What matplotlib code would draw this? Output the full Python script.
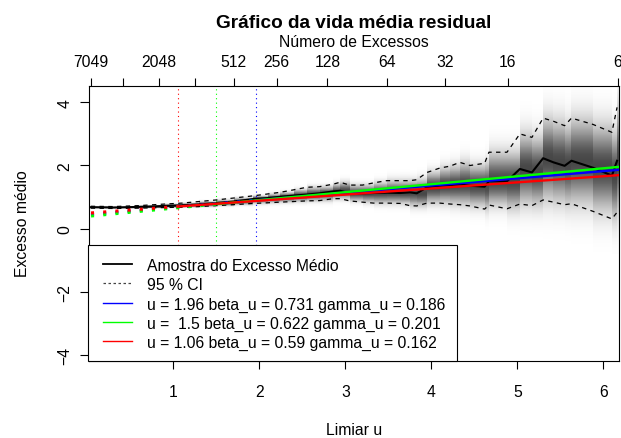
import numpy as np
import matplotlib
matplotlib.use("Agg")
import matplotlib.pyplot as plt
from matplotlib.patches import Rectangle
from matplotlib.lines import Line2D

plt.rcParams['font.family'] = ['Liberation Sans', 'DejaVu Sans']

# ---------------- data ----------------
threshold = [0.04, 0.3, 0.6, 0.9, 1.1, 1.3, 1.5, 1.7, 1.93, 2.1, 2.24, 2.4, 2.55, 2.7,
             2.86, 2.94, 3.05, 3.2, 3.33, 3.48, 3.64, 3.75, 3.83, 3.95, 4.1, 4.22,
             4.33, 4.45, 4.62, 4.67, 4.88, 5.03, 5.17, 5.30, 5.42, 5.55, 5.63, 5.88,
             6.10, 6.16]
mean_excess = [0.68, 0.67, 0.69, 0.72, 0.74, 0.77, 0.81, 0.86, 0.94, 0.97, 1.01, 1.05,
               1.08, 1.12, 1.18, 1.20, 1.12, 1.12, 1.13, 1.14, 1.13, 1.15, 1.12, 1.31,
               1.36, 1.38, 1.40, 1.36, 1.33, 1.50, 1.50, 1.89, 1.78, 2.23, 2.10, 1.99,
               2.15, 1.93, 1.68, 2.15]
ci_upper = [0.71, 0.70, 0.73, 0.78, 0.81, 0.86, 0.91, 0.97, 1.04, 1.10, 1.15, 1.23,
            1.31, 1.33, 1.41, 1.47, 1.38, 1.38, 1.45, 1.52, 1.52, 1.52, 1.55, 1.78,
            1.92, 1.98, 2.10, 2.00, 2.07, 2.42, 2.42, 3.00, 2.89, 3.50, 3.40, 3.26,
            3.50, 3.30, 3.05, 3.84]
ci_lower = [0.65, 0.64, 0.65, 0.67, 0.68, 0.70, 0.73, 0.76, 0.80, 0.82, 0.84, 0.86,
            0.88, 0.89, 0.95, 0.95, 0.88, 0.84, 0.81, 0.81, 0.80, 0.73, 0.72, 0.81,
            0.81, 0.78, 0.76, 0.72, 0.62, 0.75, 0.63, 0.78, 0.73, 0.91, 0.84, 0.76,
            0.79, 0.55, 0.31, 0.52]

top_tick_u = [0.043, 0.419, 0.830, 1.256, 1.702, 2.202, 2.791, 3.481, 4.159, 4.888, 6.167]
top_counts = [7049, 4096, 2048, 1024, 512, 256, 128, 64, 32, 16, 6]
top_hidden = [4096, 1024]

fit_u0 = [1.96, 1.5, 1.06]
fit_beta = [0.731, 0.622, 0.59]
fit_gamma = [0.186, 0.201, 0.162]
fit_colors = ['#0000FF', '#00FF00', '#FF0000']
fit_x_start = 0.043
fit_x_end = 6.186
fit_y_start = [0.450, 0.401, 0.499]
fit_y_u0 = [0.898, 0.778, 0.704]
fit_y_end = [1.865, 1.958, 1.696]

x_ticks = [1, 2, 3, 4, 5, 6]
y_ticks = [-4, -2, 0, 2, 4]

# ---------------- figure ----------------
W, H = 621, 439
fig = plt.figure(figsize=(W / 100, H / 100), dpi=100)


def fx(x):
    return x / W


def fy(y):
    return 1 - y / H


L, R, T, B = 88.7, 619.3, 87.3, 361.7
ax = fig.add_axes([fx(L), fy(B), (R - L) / W, (B - T) / H])
ax.set_xlim(0.016, 6.186)
ax.set_ylim(-4.177, 4.506)

u = np.array(threshold)
m = np.array(mean_excess)
lo = np.array(ci_lower)
up = np.array(ci_upper)

# grey density shading between the confidence bounds
xedges = np.append(u, fit_x_end)
ygrid = np.linspace(-0.8, 5.2, 601)
yc = 0.5 * (ygrid[:-1] + ygrid[1:])
C = np.ones((len(yc), len(u)))
for i in range(len(u)):
    s_up = max((up[i] - m[i]) / 1.96, 1e-3)
    s_lo = max((m[i] - lo[i]) / 1.96, 1e-3)
    z = np.where(yc >= m[i], (yc - m[i]) / s_up, (m[i] - yc) / s_lo)
    C[:, i] = 1 - 0.72 * np.exp(-0.36 * z * z)
ax.pcolormesh(xedges, ygrid, C, cmap='gray', vmin=0, vmax=1, shading='flat', zorder=1)

# confidence bounds and mean excess
ax.plot(u, up, color='black', lw=0.9, dashes=(3.5, 3.5), zorder=3)
ax.plot(u, lo, color='black', lw=0.9, dashes=(3.5, 3.5), zorder=3)
ax.plot(u, m, color='black', lw=1.5, zorder=4)

# fitted GPD mean excess lines
for k in range(3):
    ax.axvline(fit_u0[k], color=fit_colors[k], lw=0.8, ls=(0, (1, 3)), zorder=2)
for k in range(3):
    ax.plot([fit_x_start, fit_u0[k]], [fit_y_start[k], fit_y_u0[k]],
            color=fit_colors[k], lw=2.2, ls=(0, (1, 3)), zorder=5)
    ax.plot([fit_u0[k], fit_x_end], [fit_y_u0[k], fit_y_end[k]],
            color=fit_colors[k], lw=1.7, zorder=5)

# axes styling
FS = 11.3
for s in ax.spines.values():
    s.set_linewidth(0.8)
ax.set_xticks(x_ticks)
ax.set_xticklabels([str(t) for t in x_ticks])
ax.set_yticks(y_ticks)
ax.set_yticklabels(['\u22124' if t == -4 else '\u22122' if t == -2 else str(t) for t in y_ticks],
                   rotation=90, va='center')
ax.tick_params(axis='x', direction='out', length=6.1, width=0.8, pad=10.8, labelsize=FS)
ax.tick_params(axis='y', direction='out', length=6.6, width=0.8, pad=5.3, labelsize=FS)

ax2 = ax.twiny()
ax2.set_xlim(ax.get_xlim())
ax2.set_xticks(top_tick_u)
ax2.set_xticklabels(['' if c in top_hidden else str(c) for c in top_counts])
ax2.tick_params(axis='x', direction='out', length=6.0, width=0.8, pad=6.5, labelsize=FS)
for s in ax2.spines.values():
    s.set_visible(False)

# titles / labels
fig.text(fx(354), fy(27.5), 'Gráfico da vida média residual', ha='center', va='baseline',
         fontsize=13.7, fontweight='bold')
fig.text(fx(354), fy(47), 'Número de Excessos', ha='center', va='baseline', fontsize=FS)
fig.text(fx(354), fy(435), 'Limiar u', ha='center', va='baseline', fontsize=FS)
fig.text(fx(23), fy(224), 'Excesso médio', ha='center', va='center', rotation=90, fontsize=FS)

# legend (drawn manually to match the R layout)
legend_labels = ['Amostra do Excesso Médio', '95 % CI'] + [
    'u = {:>4} beta_u = {} gamma_u = {}'.format(fit_u0[k], fit_beta[k], fit_gamma[k])
    for k in range(3)]
legend_colors = ['black', '#444444'] + fit_colors
legend_styles = ['-', (0, (2, 2))] + ['-'] * 3
legend_lw = [1.3, 0.9, 1.0, 1.0, 1.0]
lx0, lx1, ly0, ly1 = 88.3, 456.7, 246, 361.7
fig.add_artist(Rectangle((fx(lx0), fy(ly1)), (lx1 - lx0) / W, (ly1 - ly0) / H,
                         transform=fig.transFigure, facecolor='white',
                         edgecolor='black', lw=0.8, zorder=10))
for i, lab in enumerate(legend_labels):
    yy = 265 + 19.33 * i
    fig.add_artist(Line2D([fx(102.7), fx(131.7)], [fy(yy), fy(yy)], transform=fig.transFigure,
                          color=legend_colors[i], ls=legend_styles[i], lw=legend_lw[i],
                          zorder=11))
    fig.text(fx(146.7), fy(yy + 5.8), lab, ha='left', va='baseline', fontsize=FS, zorder=11)

fig.savefig('out.png', dpi=100)
